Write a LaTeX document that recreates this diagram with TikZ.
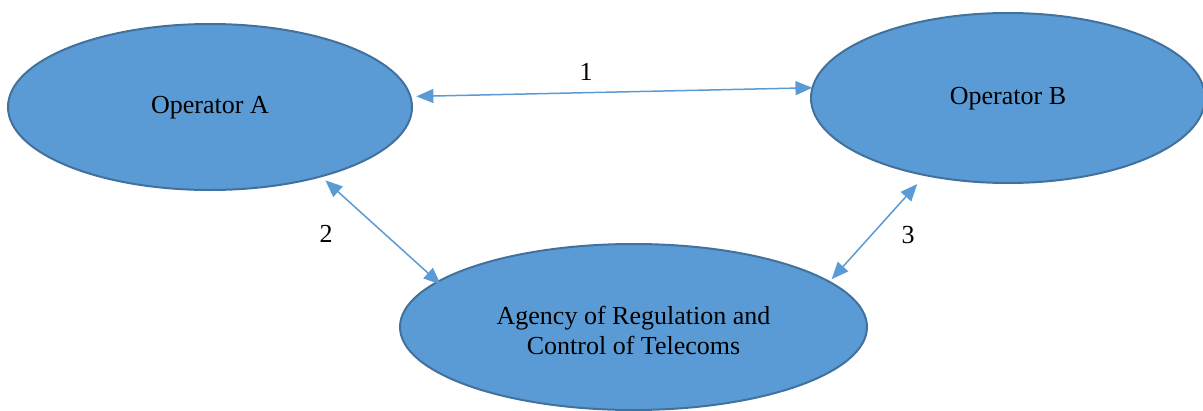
\documentclass[tikz,border=0pt]{standalone}
\usepackage{fontspec}
\setmainfont{Liberation Serif}
\usetikzlibrary{shapes.geometric,arrows.meta}
\definecolor{ovalfill}{HTML}{5B9BD5}
\definecolor{ovaledge}{HTML}{41719C}
\definecolor{linkblue}{HTML}{5B9BD5}
\tikzset{
  party/.style={ellipse, draw=ovaledge, line width=2pt, fill=ovalfill,
    inner sep=0pt, outer sep=0pt},
  link/.style={draw=linkblue, line width=1.5pt,
    {Triangle[length=17pt,width=14pt]}-{Triangle[length=17pt,width=14pt]}},
  tag/.style={font=\fontsize{26}{30}\selectfont, inner sep=0pt, align=center}
}
\begin{document}
\begin{tikzpicture}[x=1pt,y=-1pt]
  \useasboundingbox (0,0) rectangle (1203,410);
  \clip (0,0) rectangle (1203,410);

  \node[party, minimum width=404pt, minimum height=166pt] (A) at (210,107) {};
  \node[tag] at (210,108) {Operator A};

  \node[party, minimum width=394pt, minimum height=170pt] (B) at (1008,98) {};
  \node[tag] at (1008,99) {Operator B};

  \node[party, minimum width=467pt, minimum height=166pt] (R) at (633.5,327) {};
  \node[tag] at (633.5,330) {Agency of Regulation and\\Control of Telecoms};

  % exchanges between the parties
  \draw[link, shorten <=6pt] (A.3) -- (B.177);
  \draw[link, shorten <=6pt, shorten >=-4pt] (A.-32.6) -- (R.167);
  \draw[link, shorten <=12pt, shorten >=3.5pt] (B.-137) -- (R.13.2);

  \node[tag] (n1) at (586,72) {1};
  \node[tag] (n2) at (326,234) {2};
  \node[tag] (n3) at (908,235) {3};
\end{tikzpicture}
\end{document}
